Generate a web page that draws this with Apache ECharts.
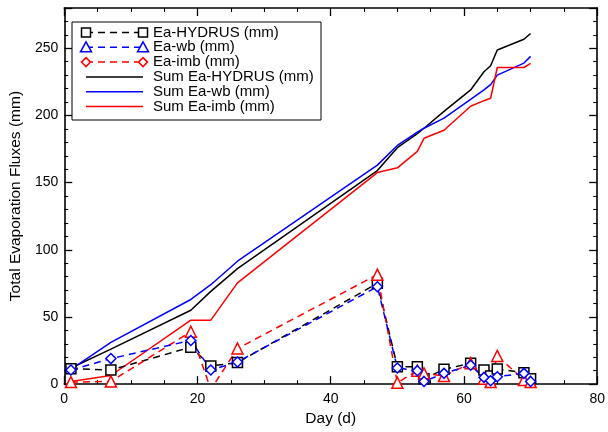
<!DOCTYPE html>
<html>
<head>
<meta charset="utf-8">
<script src="https://cdn.jsdelivr.net/npm/echarts@6/dist/echarts.min.js"></script>
<style>
html,body{margin:0;padding:0;background:#fff;}
#chart{width:608px;height:432px;}
</style>
</head>
<body>
<div id="chart"></div>
<script>
const days = [1, 7, 19, 22, 26, 47, 50, 53, 54, 57, 61, 63, 64, 65, 69, 70];
const eaHydrus = [11.5, 10.5, 27.5, 13.5, 16, 75, 13, 13, 4, 11, 15.5, 10.5, 6, 11.3, 8.5, 4];
const eaWb = [10.5, 19, 32.5, 10.5, 16.5, 72.5, 12, 10, 2, 8, 14, 5, 2.5, 5.5, 8, 2];
const eaImb = [1.5, 2, 39, -4, 26.5, 81.5, 1, 10, 8, 6, 15.5, 4, 1.5, 21, 3, 1.5];
const sumHydrus = [12, 26, 55, 69, 86, 159, 176, 186.5, 190.5, 203, 219, 232.5, 237, 248.7, 256.7, 261];
const sumWb = [11, 31, 63, 74, 91.5, 163, 177.7, 187.6, 190.5, 198, 212, 219, 223, 230, 239, 244];
const sumImb = [2, 6.4, 47.6, 47.6, 75.4, 157.5, 161, 173.3, 183, 189, 206.9, 211, 212.8, 235.7, 235.7, 238.7];
const legendNames = ['Ea-HYDRUS (mm)', 'Ea-wb (mm)', 'Ea-imb (mm)', 'Sum Ea-HYDRUS (mm)', 'Sum Ea-wb (mm)', 'Sum Ea-imb (mm)'];
const xTicks = [0, 20, 40, 60, 80];
const yTicks = [0, 50, 100, 150, 200, 250];

const FONT = 'Liberation Sans, Arial, Helvetica, sans-serif';
const pair = (ys) => days.map((d, i) => [d, ys[i]]);

const chart = echarts.init(document.getElementById('chart'), null, {renderer: 'canvas'});

function axisCommon(showLabel) {
  return {
    axisLine: {show: true, onZero: false, lineStyle: {color: '#000', width: 1.6}},
    axisTick: {show: true, inside: true, length: 8, lineStyle: {color: '#000', width: 1.3}},
    minorTick: {show: true, length: 4, lineStyle: {color: '#000', width: 1.1}},
    splitLine: {show: false},
    minorSplitLine: {show: false},
    axisLabel: {show: showLabel, color: '#000', fontFamily: FONT, fontSize: 14}
  };
}

const dashSeries = (name, ys, color, symbol, size) => ({
  name, type: 'line', data: pair(ys), symbol, symbolSize: size,
  showAllSymbol: true, clip: true,
  lineStyle: {color, width: 1.5, type: [7, 5]},
  itemStyle: {color: '#fff', borderColor: color, borderWidth: 1.5},
  emphasis: {disabled: true}, animation: false, z: 3
});
const solidSeries = (name, ys, color) => ({
  name, type: 'line', data: pair(ys), symbol: 'none', clip: true,
  lineStyle: {color, width: 1.5}, emphasis: {disabled: true}, animation: false, z: 2
});

// legend drawn as graphic (markers at both ends like reference)
const LX0 = 86, LX1 = 143, LY0 = 32.5, LDY = 14.8, TX = 153;
const legendStyles = [
  {color: '#000', dash: true, marker: 'square'},
  {color: '#0000ff', dash: true, marker: 'triangle'},
  {color: '#ff0000', dash: true, marker: 'diamond'},
  {color: '#000', dash: false},
  {color: '#0000ff', dash: false},
  {color: '#ff0000', dash: false}
];
function markerShape(kind, cx, cy, color) {
  const s = 4.5;
  if (kind === 'square') return {type: 'rect', shape: {x: cx - s, y: cy - s, width: 2 * s, height: 2 * s}, style: {fill: '#fff', stroke: color, lineWidth: 1.5}, z: 102};
  if (kind === 'triangle') return {type: 'polygon', shape: {points: [[cx, cy - s - 1], [cx + s + 1, cy + s], [cx - s - 1, cy + s]]}, style: {fill: '#fff', stroke: color, lineWidth: 1.5}, z: 102};
  return {type: 'polygon', shape: {points: [[cx, cy - s], [cx + s, cy], [cx, cy + s], [cx - s, cy]]}, style: {fill: '#fff', stroke: color, lineWidth: 1.5}, z: 102};
}
const graphics = [{type: 'rect', shape: {x: 72, y: 22, width: 249, height: 98}, style: {fill: '#fff', stroke: '#000', lineWidth: 1}, z: 100}];
legendNames.forEach((nm, i) => {
  const st = legendStyles[i];
  const y = LY0 + LDY * i;
  graphics.push({type: 'line', shape: {x1: LX0, y1: y, x2: LX1, y2: y}, style: {stroke: st.color, lineWidth: 1.5, lineDash: st.dash ? [7, 5] : null}, z: 101});
  if (st.marker) {
    graphics.push(markerShape(st.marker, LX0, y, st.color));
    graphics.push(markerShape(st.marker, LX1, y, st.color));
  }
  graphics.push({type: 'text', style: {text: nm, x: TX, y: y, textVerticalAlign: 'middle', verticalAlign: 'middle', fill: '#000', font: '15px ' + FONT}, z: 101});
});

const option = {
  backgroundColor: '#fff',
  animation: false,
  textStyle: {fontFamily: FONT},
  grid: {left: 62, right: 8, top: 8, bottom: 45, containLabel: false},
  xAxis: [
    Object.assign({type: 'value', min: xTicks[0], max: xTicks[xTicks.length - 1], interval: 20, position: 'bottom',
      name: 'Day (d)', nameLocation: 'middle', nameGap: 23,
      nameTextStyle: {color: '#000', fontFamily: FONT, fontSize: 15.5}}, axisCommon(true),
      {minorTick: {show: true, splitNumber: 4, length: 4, lineStyle: {color: '#000', width: 1.1}}, axisLabel: {show: true, color: '#000', fontFamily: FONT, fontSize: 14, margin: 8}}),
    Object.assign({type: 'value', min: 0, max: 80, interval: 20, position: 'top'}, axisCommon(false),
      {minorTick: {show: true, splitNumber: 4, length: 4, lineStyle: {color: '#000', width: 1.1}}})
  ],
  yAxis: [
    Object.assign({type: 'value', min: 0, max: 280, interval: 50, position: 'left',
      name: 'Total Evaporation Fluxes (mm)', nameLocation: 'middle', nameGap: 34,
      nameTextStyle: {color: '#000', fontFamily: FONT, fontSize: 15.5}}, axisCommon(true),
      {minorTick: {show: true, splitNumber: 5, length: 4, lineStyle: {color: '#000', width: 1.1}},
       axisLabel: {show: true, color: '#000', fontFamily: FONT, fontSize: 14, margin: 6, showMaxLabel: false,
         formatter: v => (yTicks.indexOf(v) >= 0 ? String(v) : '')}}),
    Object.assign({type: 'value', min: 0, max: 280, interval: 50, position: 'right'}, axisCommon(false),
      {minorTick: {show: true, splitNumber: 5, length: 4, lineStyle: {color: '#000', width: 1.1}}})
  ],
  series: [
    solidSeries(legendNames[3], sumHydrus, '#000'),
    solidSeries(legendNames[4], sumWb, '#0000ff'),
    solidSeries(legendNames[5], sumImb, '#ff0000'),
    dashSeries(legendNames[0], eaHydrus, '#000', 'rect', 10),
    dashSeries(legendNames[2], eaImb, '#ff0000', 'triangle', 11),
    dashSeries(legendNames[1], eaWb, '#0000ff', 'diamond', 10)
  ],
  graphic: graphics
};
chart.setOption(option);
</script>
</body>
</html>
